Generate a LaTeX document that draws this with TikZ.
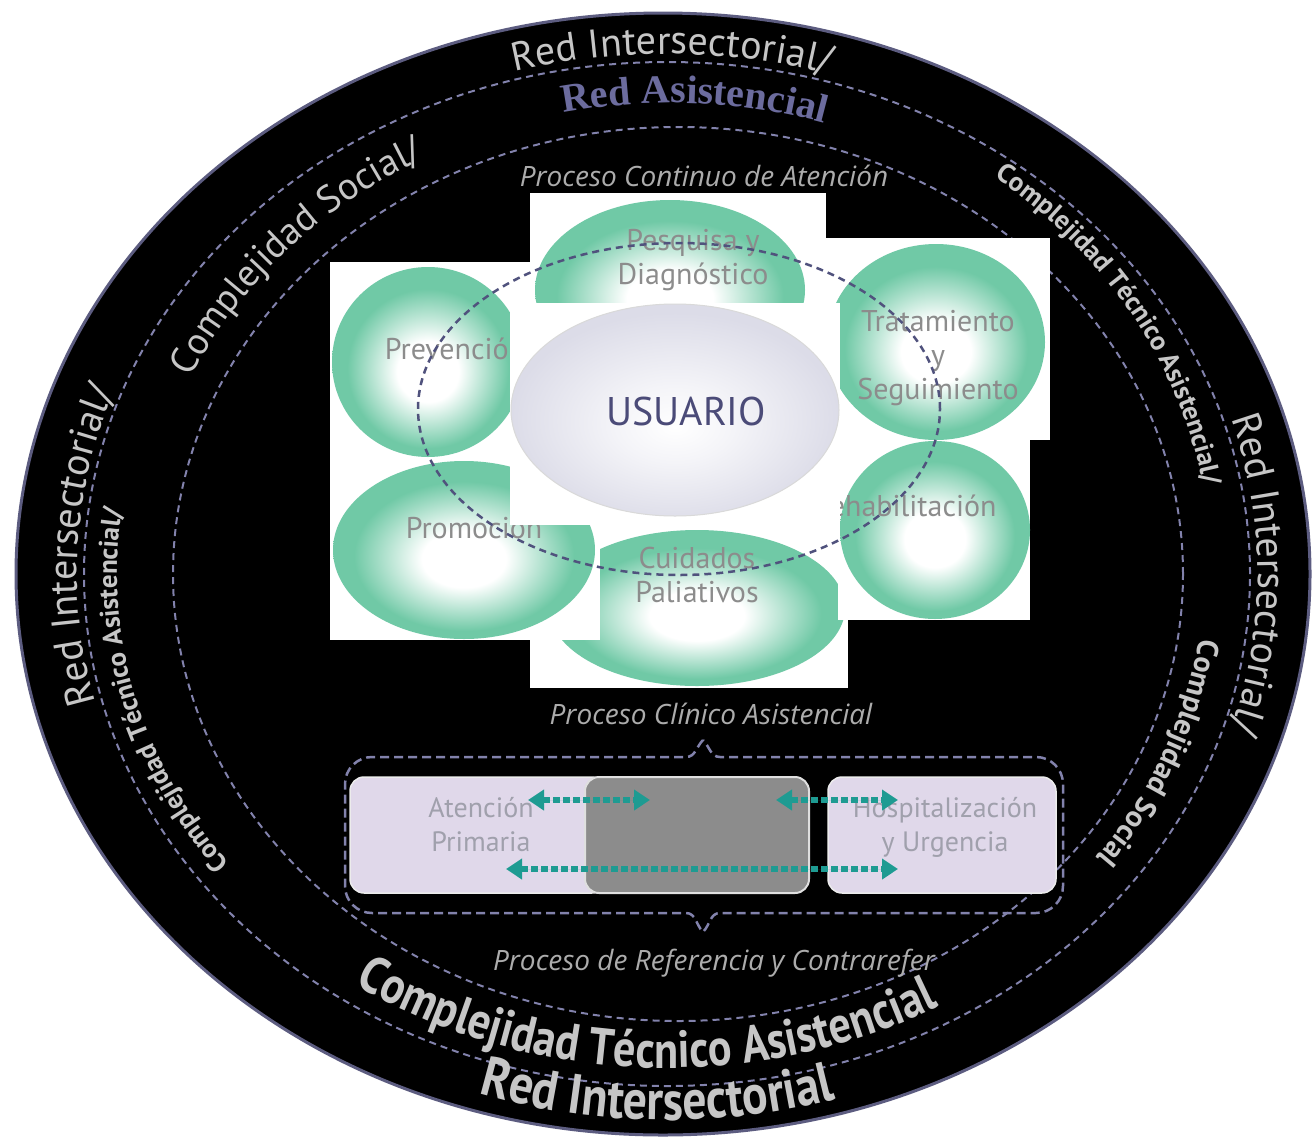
\documentclass[tikz,border=0pt]{standalone}
\usepackage{fontspec}
\setmainfont{PT Sans}
\newfontfamily\ringfont{PT Sans}
\newfontfamily\narrowfont[FakeStretch=0.85]{PT Sans}
\newfontfamily\asistfont{Liberation Serif}
\newfontfamily\procfont{Open Sans}
\newfontfamily\labelfont{PT Sans}
\usepackage{tikz}
\usetikzlibrary{arrows.meta, positioning, shapes.geometric, decorations.text, calc}

\definecolor{mint}{RGB}{112,201,166}
\definecolor{ringdash}{RGB}{130,130,172}
\definecolor{ringedge}{RGB}{92,92,128}
\definecolor{ringtxt}{RGB}{198,198,198}
\definecolor{asisttxt}{RGB}{108,108,158}
\definecolor{usrfill}{RGB}{220,220,232}
\definecolor{usrlight}{RGB}{244,244,248}
\definecolor{usrtxt}{RGB}{75,75,120}
\definecolor{labgray}{RGB}{140,140,140}
\definecolor{proctxt}{RGB}{172,172,172}
\definecolor{boxfill}{RGB}{224,216,234}
\definecolor{boxtxt}{RGB}{160,160,172}
\definecolor{midgray}{RGB}{140,140,140}
\definecolor{tealarr}{RGB}{30,155,146}
\definecolor{procdash}{RGB}{80,82,125}

\pgfdeclareradialshading{bubbleshade}{\pgfpoint{0bp}{-3bp}}{color(0bp)=(white); color(8bp)=(white); color(21bp)=(mint); color(25bp)=(mint); color(50bp)=(mint)}
\pgfdeclareradialshading{usershade}{\pgfpoint{0bp}{-4bp}}{color(0bp)=(white); color(9bp)=(usrlight); color(25bp)=(usrfill); color(50bp)=(usrfill)}

\newcommand{\outerringfont}{\ringfont\fontsize{40}{44}\selectfont\color{ringtxt}}
\newcommand{\socialfont}{\ringfont\fontsize{38}{42}\selectfont\color{ringtxt}}
\newcommand{\smallringfont}{\ringfont\bfseries\fontsize{27}{30}\selectfont\color{ringtxt}}
\newcommand{\sociallowfont}{\ringfont\bfseries\fontsize{30}{33}\selectfont\color{ringtxt}}
\newcommand{\asistringfont}{\asistfont\bfseries\fontsize{40}{44}\selectfont\color{asisttxt}}
\newcommand{\bigcomplexfont}{\narrowfont\bfseries\fontsize{52}{56}\selectfont\color{ringtxt}}
\newcommand{\bigredfont}{\narrowfont\bfseries\fontsize{56}{60}\selectfont\color{ringtxt}}

\begin{document}
\begin{tikzpicture}[
        x=1pt, y=1pt,
        ring_dash/.style={
            draw=ringdash,
            line width=2pt,
            dash pattern=on 7pt off 5pt
        },
        ring_text/.style={
            decorate,
            decoration={text along path, text align=center, text={#1}}
        },
        white_box/.style={
            rectangle,
            fill=white,
            inner sep=0pt
        },
        bubble/.style={
            ellipse,
            shade,
            shading=bubbleshade,
            inner sep=0pt
        },
        bubble_text/.style={
            font={\labelfont\fontsize{30}{34}\selectfont},
            text=labgray,
            align=center
        },
        proc_text/.style={
            font={\procfont\itshape\fontsize{28}{32}\selectfont},
            text=proctxt
        },
        plain_box/.style={
            rectangle,
            rounded corners=14pt,
            fill=boxfill,
            draw=white!85!gray,
            line width=1.5pt
        },
        gray_box/.style={
            rectangle,
            rounded corners=14pt,
            fill=midgray,
            draw=white!75!gray,
            line width=2pt
        },
        box_text/.style={
            font={\labelfont\fontsize{28}{34}\selectfont},
            text=boxtxt,
            align=center
        },
        teal_arrow/.style={
            {Triangle[length=16pt, width=20pt]}-{Triangle[length=16pt, width=20pt]},
            draw=tealarr,
            fill=tealarr,
            line width=6pt,
            dash pattern=on 7pt off 3pt
        },
        brace_dash/.style={
            draw=ringdash,
            line width=2.5pt,
            dash pattern=on 9pt off 5pt
        }
    ]
        \fill[white] (0,0) rectangle (1314,-1138);
        \useasboundingbox (0,0) rectangle (1314,-1138);

        \coordinate (ctr_o) at (663,-574);
        \coordinate (ctr_a) at (667,-574);
        \coordinate (ctr_b) at (678,-574);
        \coordinate (ctr_m) at (672,-574);

        \fill[black, draw=ringedge, line width=3pt] (ctr_o) ellipse[x radius=647, y radius=561];
        \draw[ring_dash] (ctr_a) ellipse[x radius=583, y radius=512];
        \draw[ring_dash] (ctr_b) ellipse[x radius=505, y radius=447];

        \path[ring_text={|\outerringfont|Red Intersectorial/}]
            ($(ctr_a)+(125:593 and 520)$) arc[start angle=125, end angle=54, x radius=593, y radius=520];
        \path[ring_text={|\outerringfont|Red Intersectorial/}]
            ($(ctr_a)+(212:590 and 520)$) arc[start angle=212, end angle=142, x radius=590, y radius=520];
        \path[ring_text={|\outerringfont|Red Intersectorial/}]
            ($(ctr_a)+(35:591 and 520)$) arc[start angle=35, end angle=-35, x radius=591, y radius=520];
        \path[ring_text={|\asistringfont|Red Asistencial}]
            ($(ctr_m)+(122:528 and 471)$) arc[start angle=122, end angle=53, x radius=528, y radius=471];
        \path[ring_text={|\socialfont|Complejidad Social/}]
            ($(ctr_m)+(175:530 and 470)$) arc[start angle=175, end angle=100, x radius=530, y radius=470];
        \path[ring_text={|\smallringfont|Complejidad Técnico Asistencial/}]
            ($(ctr_m)+(75:540 and 495)$) arc[start angle=75, end angle=-13, x radius=540, y radius=495];
        \path[ring_text={|\smallringfont|Complejidad Técnico Asistencial/}]
            ($(ctr_m)+(238:555 and 480)$) arc[start angle=238, end angle=150, x radius=555, y radius=480];
        \path[ring_text={|\sociallowfont|Complejidad Social}]
            ($(ctr_m)+(8:532 and 470)$) arc[start angle=8, end angle=-52, x radius=532, y radius=470];
        \path[ring_text={|\bigcomplexfont|Complejidad Técnico Asistencial}]
            ($(ctr_a)+(222:562 and 494)$) arc[start angle=222, end angle=313, x radius=562, y radius=494];
        \path[ring_text={|\bigredfont|Red Intersectorial}]
            ($(ctr_a)+(234:612 and 546)$) arc[start angle=234, end angle=304, x radius=612, y radius=546];

        \node[proc_text] (cont_label) at (704,-176) {Proceso Continuo de Atención};

        \node[white_box, minimum width=318pt, minimum height=163pt] (cuid_box) at (689,-606) {};
        \node[bubble, minimum width=296pt, minimum height=156pt] (cuid) at (697,-608) {};
        \node[bubble_text] (cuid_text) at (697,-575) {Cuidados\\Paliativos};

        \node[white_box, minimum width=192pt, minimum height=180pt] (rehab_box) at (934,-530) {};
        \node[bubble, minimum width=190pt, minimum height=178pt] (rehab) at (935,-530) {};
        \node[bubble_text] (rehab_text) at (905,-506) {Rehabilitación};

        \node[white_box, minimum width=224pt, minimum height=202pt] (trat_box) at (938,-339) {};
        \node[bubble, minimum width=218pt, minimum height=196pt] (trat) at (936,-342) {};
        \node[bubble_text] (trat_text) at (938,-358) {Tratamiento\\y\\Seguimiento};

        \node[white_box, minimum width=296pt, minimum height=112pt] (pesq_box) at (678,-249) {};
        \begin{scope}
            \clip (530,-193) rectangle (826,-305);
            \node[bubble, minimum width=270pt, minimum height=180pt] (pesq) at (670,-290) {};
        \end{scope}
        \node[bubble_text] (pesq_text) at (693,-260) {Pesquisa y\\Diagnóstico};

        \node[white_box, minimum width=200pt, minimum height=198pt] (prev_box) at (430,-361) {};
        \node[bubble, minimum width=192pt, minimum height=190pt] (prev) at (428,-362) {};
        \node[bubble_text] (prev_text) at (455,-349) {Prevención};

        \node[white_box, minimum width=270pt, minimum height=180pt] (prom_box) at (465,-550) {};
        \node[bubble, minimum width=262pt, minimum height=178pt] (prom) at (464,-550) {};
        \node[bubble_text] (prom_text) at (474,-528) {Promoción};

        \node[white_box, minimum width=330pt, minimum height=222pt] (user_box) at (675,-414) {};
        \node[ellipse, shade, shading=usershade, draw=white!70!gray, line width=1pt,
            minimum width=328pt, minimum height=212pt] (user) at (675,-410) {};
        \node[font={\labelfont\fontsize{40}{44}\selectfont}, text=usrtxt] (user_text) at (686,-411) {USUARIO};

        \draw[draw=procdash, line width=2.5pt, dash pattern=on 7pt off 5pt]
            (679,-409) ellipse[x radius=261, y radius=166];

        \node[proc_text] (clin_label) at (711,-714) {Proceso Clínico Asistencial};

        \coordinate (brace_top) at (703,-740);
        \coordinate (brace_bot) at (703,-932);
        \draw[brace_dash] (brace_top) to[out=-135, in=0] (686,-757) -- (372,-757)
            to[out=180, in=90] (345,-784) -- (345,-886) to[out=-90, in=180] (372,-913)
            -- (686,-913) to[out=0, in=135] (brace_bot) to[out=45, in=180] (720,-913)
            -- (1036,-913) to[out=0, in=-90] (1063,-886) -- (1063,-784)
            to[out=90, in=0] (1036,-757) -- (720,-757) to[out=180, in=-45] (brace_top);

        \node[plain_box, minimum width=256pt, minimum height=116pt] (aps_box) at (478,-835) {};
        \node[gray_box, minimum width=224pt, minimum height=116pt] (mid_box) at (697,-835) {};
        \node[plain_box, minimum width=228pt, minimum height=116pt] (hosp_box) at (942,-835) {};
        \node[box_text] (aps_text) at (481,-825) {Atención\\Primaria};
        \node[box_text] (hosp_text) at (945,-827) {Hospitalización\\y Urgencia};

        \coordinate (arr_a1) at (528,-800);
        \coordinate (arr_a2) at (650,-800);
        \coordinate (arr_b1) at (776,-800);
        \coordinate (arr_b2) at (898,-800);
        \coordinate (arr_c1) at (506,-869);
        \coordinate (arr_c2) at (898,-869);
        \draw[teal_arrow] (arr_a1) -- (arr_a2);
        \draw[teal_arrow] (arr_b1) -- (arr_b2);
        \draw[teal_arrow] (arr_c1) -- (arr_c2);

        \node[proc_text] (ref_label) at (714,-963) {Proceso de Referencia y Contrarefer};
    \end{tikzpicture}
\end{document}
